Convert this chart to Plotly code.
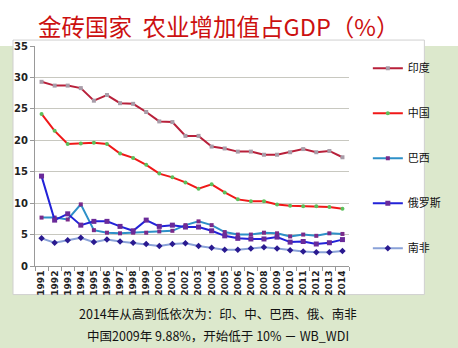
import plotly.graph_objects as go

years = [str(y) for y in range(1991, 2015)]
india = [29.3, 28.7, 28.7, 28.3, 26.3, 27.2, 25.9, 25.8, 24.5, 23.0, 22.9, 20.7,
         20.7, 19.0, 18.7, 18.2, 18.2, 17.7, 17.7, 18.1, 18.6, 18.1, 18.3, 17.3]
china = [24.2, 21.5, 19.4, 19.5, 19.6, 19.4, 17.9, 17.2, 16.1, 14.7, 14.1, 13.3,
         12.3, 13.0, 11.7, 10.6, 10.3, 10.3, 9.8, 9.6, 9.5, 9.5, 9.4, 9.1]
brazil = [7.7, 7.7, 7.4, 9.8, 5.7, 5.3, 5.2, 5.3, 5.3, 5.5, 5.6, 6.5,
          7.1, 6.5, 5.4, 5.0, 5.0, 5.3, 5.2, 4.7, 5.0, 4.8, 5.2, 5.1]
russia = [14.3, 7.3, 8.3, 6.5, 7.1, 7.1, 6.3, 5.6, 7.3, 6.3, 6.5, 6.2,
          6.2, 5.6, 4.8, 4.4, 4.3, 4.3, 4.6, 3.8, 3.9, 3.5, 3.7, 4.2]
safrica = [4.4, 3.7, 4.1, 4.5, 3.8, 4.2, 3.9, 3.7, 3.5, 3.2, 3.5, 3.6,
           3.2, 2.9, 2.6, 2.6, 2.8, 3.0, 2.8, 2.5, 2.3, 2.2, 2.2, 2.4]
names = ["印度", "中国", "巴西", "俄罗斯", "南非"]
yticks = [0, 5, 10, 15, 20, 25, 30, 35]

title_text = "金砖国家  农业增加值占GDP（%）"
note1 = "2014年从高到低依次为：印、中、巴西、俄、南非"
note2 = "中国2009年 9.88%，开始低于 10% － WB_WDI"

series = [india, china, brazil, russia, safrica]
line_colors = ["#B8203A", "#F01818", "#2E90C8", "#2222D8", "#8AA2D8"]
marker_colors = ["#A89CA8", "#5CC05C", "#7A2A8A", "#6A2A9A", "#2A1A90"]
symbols = ["square", "circle", "square", "square", "diamond"]
msizes = [4, 4, 4, 5, 5]

fig = go.Figure()
for i, (nm, vals) in enumerate(zip(names, series)):
    fig.add_trace(go.Scatter(
        x=years, y=vals, name=nm, mode="lines+markers",
        legendgroup=nm,
        line=dict(color=line_colors[i], width=2),
        marker=dict(color=marker_colors[i], size=msizes[i], symbol=symbols[i]),
    ))

fig.update_layout(
    width=458, height=348,
    margin=dict(l=35, r=90, t=46, b=82),
    paper_bgcolor="#DCE8CC",
    plot_bgcolor="#FFFEEA",
    font=dict(family="Noto Sans CJK SC, DejaVu Sans", color="#222222"),
    showlegend=True,
    legend=dict(
        x=1.06, xanchor="left", y=0.965, yanchor="top",
        font=dict(size=11, color="#111111"),
        tracegroupgap=26, itemwidth=30,
        bgcolor="rgba(0,0,0,0)",
    ),
    shapes=[
        dict(type="rect", xref="paper", yref="paper", x0=-1, x1=2, y0=1.0, y1=2,
             fillcolor="#FFFFFF", line=dict(width=0), layer="below"),
        dict(type="rect", xref="paper", yref="paper", x0=-0.07, x1=1.24,
             y0=-0.13, y1=1.027, fillcolor="#FFFFFF",
             line=dict(color="#D0D0D0", width=1), layer="below"),
    ],
    annotations=[
        dict(text=title_text, xref="paper", yref="paper", x=0.583, y=1.09,
             xanchor="center", yanchor="middle", showarrow=False,
             font=dict(size=23.5, color="#CC1010", family="Noto Sans CJK SC")),
        dict(text=note1, xref="paper", yref="paper", x=0.583, y=-0.214,
             xanchor="center", yanchor="middle", showarrow=False,
             font=dict(size=12.5, color="#111111", family="Noto Sans CJK SC")),
        dict(text=note2, xref="paper", yref="paper", x=0.583, y=-0.318,
             xanchor="center", yanchor="middle", showarrow=False,
             font=dict(size=12.5, color="#111111", family="Noto Sans CJK SC")),
    ],
)
fig.update_xaxes(
    type="category", range=[-0.5, 23.5], tickangle=-90,
    tickson="boundaries", ticks="outside", ticklen=4, tickcolor="#999999",
    showline=True, linecolor="#999999", linewidth=1, showgrid=False,
    tickfont=dict(size=9, family="DejaVu Sans", color="#222222", weight="bold"),
)
fig.update_yaxes(
    range=[0, 35], tickvals=yticks, ticks="outside", ticklen=4, tickcolor="#999999",
    showline=True, linecolor="#999999", linewidth=1,
    gridcolor="#C8C8C0", gridwidth=1, zeroline=False,
    tickfont=dict(size=10, family="DejaVu Sans", color="#222222", weight="bold"),
)
fig.write_html("out.html")
